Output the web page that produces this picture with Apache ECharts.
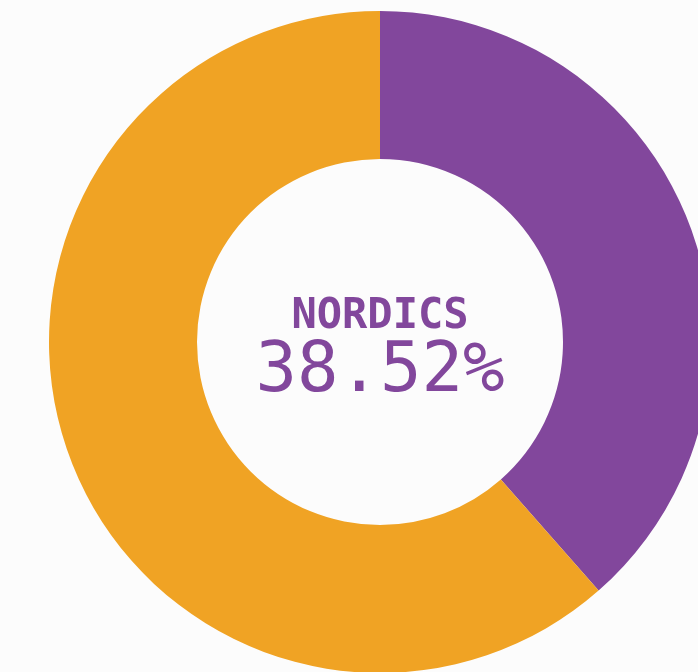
<!DOCTYPE html>
<html>
<head>
<meta charset="utf-8">
<script src="https://cdn.jsdelivr.net/npm/echarts@6/dist/echarts.min.js"></script>
<style>
  html, body { margin: 0; padding: 0; background: #fcfcfc; }
  #chart { width: 698px; height: 672px; }
</style>
</head>
<body>
<div id="chart"></div>
<script>
// slice names, values (percent) and colours
const regions = ['Nordics', 'Other']
const shares = [38.52, 61.48]
const colors = ['#82479c', '#f0a324']

const chart = echarts.init(document.getElementById('chart'))
chart.setOption({
  backgroundColor: '#fcfcfc',
  animation: false,
  graphic: [
    {
      type: 'text', x: 380, y: 317,
      style: {
        text: regions[0].toUpperCase(), fill: colors[0],
        font: 'bold 42px "DejaVu Sans Mono"', align: 'center', verticalAlign: 'middle'
      }
    },
    {
      type: 'text', x: 380, y: 373,
      style: {
        text: shares[0].toFixed(2) + '%', fill: colors[0],
        font: '69px "DejaVu Sans Mono"', align: 'center', verticalAlign: 'middle'
      }
    }
  ],
  series: [{
    type: 'pie',
    center: [380, 342],
    radius: [183, 331],
    startAngle: 90,
    clockwise: true,
    label: { show: false },
    labelLine: { show: false },
    itemStyle: { borderWidth: 0 },
    data: regions.map((n, i) => ({ name: n, value: shares[i], itemStyle: { color: colors[i] } }))
  }]
})
</script>
</body>
</html>
